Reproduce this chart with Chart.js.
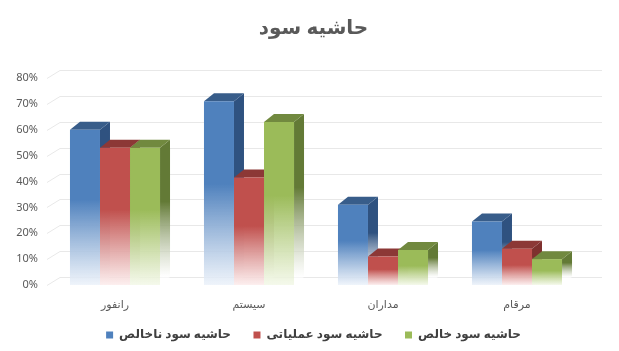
<!DOCTYPE html>
<html lang="fa">
<head>
    <meta charset="UTF-8">
    <title>حاشیه سود</title>
    <script src="https://cdn.jsdelivr.net/npm/chart.js"></script>
    <style>
        body {
            margin: 0;
            padding: 0;
            background: #fff;
        }
        .wrap {
            width: 619px;
            height: 351px;
            position: relative;
        }
    </style>
</head>
<body>
    <div class="wrap">
        <canvas id="marginChart"></canvas>
    </div>

    <script>
        // داده‌ها (درصد)
        const categories = ['رانفور', 'سیستم', 'مداران', 'مرقام'];
        const seriesNames = ['حاشیه سود ناخالص', 'حاشیه سود عملیاتی', 'حاشیه سود خالص'];
        const grossMargin = [60, 71, 31, 24.5];
        const operatingMargin = [53, 41.5, 11, 14];
        const netMargin = [53, 63, 13.5, 10];
        const yTicksMax = 80;
        const yTicksStep = 10;

        // رنگ‌ها
        const frontColors = ['#4f81bd', '#c0504d', '#9bbb59'];
        const topColors = ['#385d8a', '#8c3836', '#71893f'];
        const sideColors = ['#2f5280', '#7e302e', '#637a36'];
        const fadeColors = ['rgba(236,242,250,0.85)', 'rgba(252,236,236,0.85)', 'rgba(243,248,232,0.85)'];

        const depthX = 10;
        const depthY = 8;
        const font = "'Noto Sans', 'DejaVu Sans', sans-serif";

        function fadeGradient(ctx, top, bottom, color, fade) {
            const g = ctx.createLinearGradient(0, top, 0, bottom);
            g.addColorStop(0, color);
            g.addColorStop(0.45, color);
            g.addColorStop(1, fade);
            return g;
        }

        function barFill(i) {
            return c => {
                const chart = c.chart;
                if (!chart.chartArea || c.type !== 'data' || !c.parsed) return frontColors[i];
                const ys = chart.scales.y;
                return fadeGradient(chart.ctx, ys.getPixelForValue(c.parsed.y), ys.getPixelForValue(0), frontColors[i], fadeColors[i]);
            };
        }

        // خطوط شبکه روی دیوار پشتی + وجه بالا و کناری ستون‌ها (پشت وجه جلو)
        const bar3d = {
            id: 'bar3d',
            beforeDatasetsDraw(chart) {
                const { ctx, chartArea } = chart;
                const ys = chart.scales.y;
                ctx.save();
                ctx.strokeStyle = '#e8e8e8';
                ctx.lineWidth = 1;
                ys.ticks.forEach(t => {
                    const py = Math.round(ys.getPixelForValue(t.value)) + 0.5;
                    ctx.beginPath();
                    ctx.moveTo(chartArea.left - 1, py);
                    ctx.lineTo(chartArea.left + depthX + 2, py - depthY);
                    ctx.lineTo(chartArea.right + 18, py - depthY);
                    ctx.stroke();
                });

                chart.data.datasets.forEach((ds, i) => {
                    const meta = chart.getDatasetMeta(i);
                    meta.data.forEach(el => {
                        const { x, y, base, width } = el.getProps(['x', 'y', 'base', 'width'], true);
                        const l = x - width / 2;
                        const r = x + width / 2;

                        ctx.fillStyle = fadeGradient(ctx, y - depthY, base - depthY, sideColors[i], 'rgba(255,255,255,0.6)');
                        ctx.beginPath();
                        ctx.moveTo(r, y);
                        ctx.lineTo(r + depthX, y - depthY);
                        ctx.lineTo(r + depthX, base - depthY);
                        ctx.lineTo(r, base);
                        ctx.closePath();
                        ctx.fill();

                        ctx.fillStyle = topColors[i];
                        ctx.beginPath();
                        ctx.moveTo(l, y);
                        ctx.lineTo(l + depthX, y - depthY);
                        ctx.lineTo(r + depthX, y - depthY);
                        ctx.lineTo(r, y);
                        ctx.closePath();
                        ctx.fill();
                    });
                });
                ctx.restore();
            }
        };

        const seriesData = [grossMargin, operatingMargin, netMargin];

        new Chart(document.getElementById('marginChart'), {
            type: 'bar',
            data: {
                labels: categories,
                datasets: seriesData.map((d, i) => ({
                    label: seriesNames[i],
                    data: d,
                    backgroundColor: barFill(i),
                    borderWidth: 0,
                    categoryPercentage: 0.672,
                    barPercentage: 1
                }))
            },
            options: {
                responsive: true,
                maintainAspectRatio: false,
                animation: false,
                layout: { padding: { top: 6, left: 8, right: 0, bottom: 0 } },
                plugins: {
                    title: {
                        display: true,
                        text: 'حاشیه سود',
                        color: '#595959',
                        font: { family: font, size: 20, weight: 'bold' },
                        padding: { top: 10, bottom: 38 }
                    },
                    legend: {
                        position: 'bottom',
                        labels: {
                            color: '#404040',
                            font: { family: font, size: 12, weight: 'bold' },
                            boxWidth: 7,
                            boxHeight: 7,
                            padding: 10,
                            generateLabels: chart => {
                                const items = Chart.defaults.plugins.legend.labels.generateLabels(chart);
                                return items.map((item, i) => {
                                    item.fillStyle = frontColors[i];
                                    item.strokeStyle = frontColors[i];
                                    item.lineWidth = 0;
                                    if (i < items.length - 1) item.text = item.text + '    ';
                                    return item;
                                });
                            }
                        }
                    },
                    tooltip: { enabled: false }
                },
                scales: {
                    x: {
                        grid: { display: false, drawTicks: false },
                        border: { display: false },
                        afterFit: s => { s.height = 34; },
                        ticks: {
                            color: '#595959',
                            font: { family: font, size: 11 },
                            padding: 13
                        }
                    },
                    y: {
                        min: 0,
                        max: yTicksMax,
                        grid: { display: false, drawTicks: false },
                        border: { display: false },
                        afterFit: s => { s.width = 40; },
                        ticks: {
                            stepSize: yTicksStep,
                            color: '#595959',
                            font: { family: font, size: 11 },
                            padding: 10,
                            callback: v => v + '%'
                        }
                    },
                    // فضای خالی سمت راست برای عمق دیوار پشتی
                    spacer: {
                        position: 'right',
                        display: true,
                        grid: { display: false, drawTicks: false },
                        border: { display: false },
                        ticks: { display: false },
                        afterFit: s => { s.width = 35; }
                    }
                }
            },
            plugins: [bar3d]
        });
    </script>
</body>
</html>
